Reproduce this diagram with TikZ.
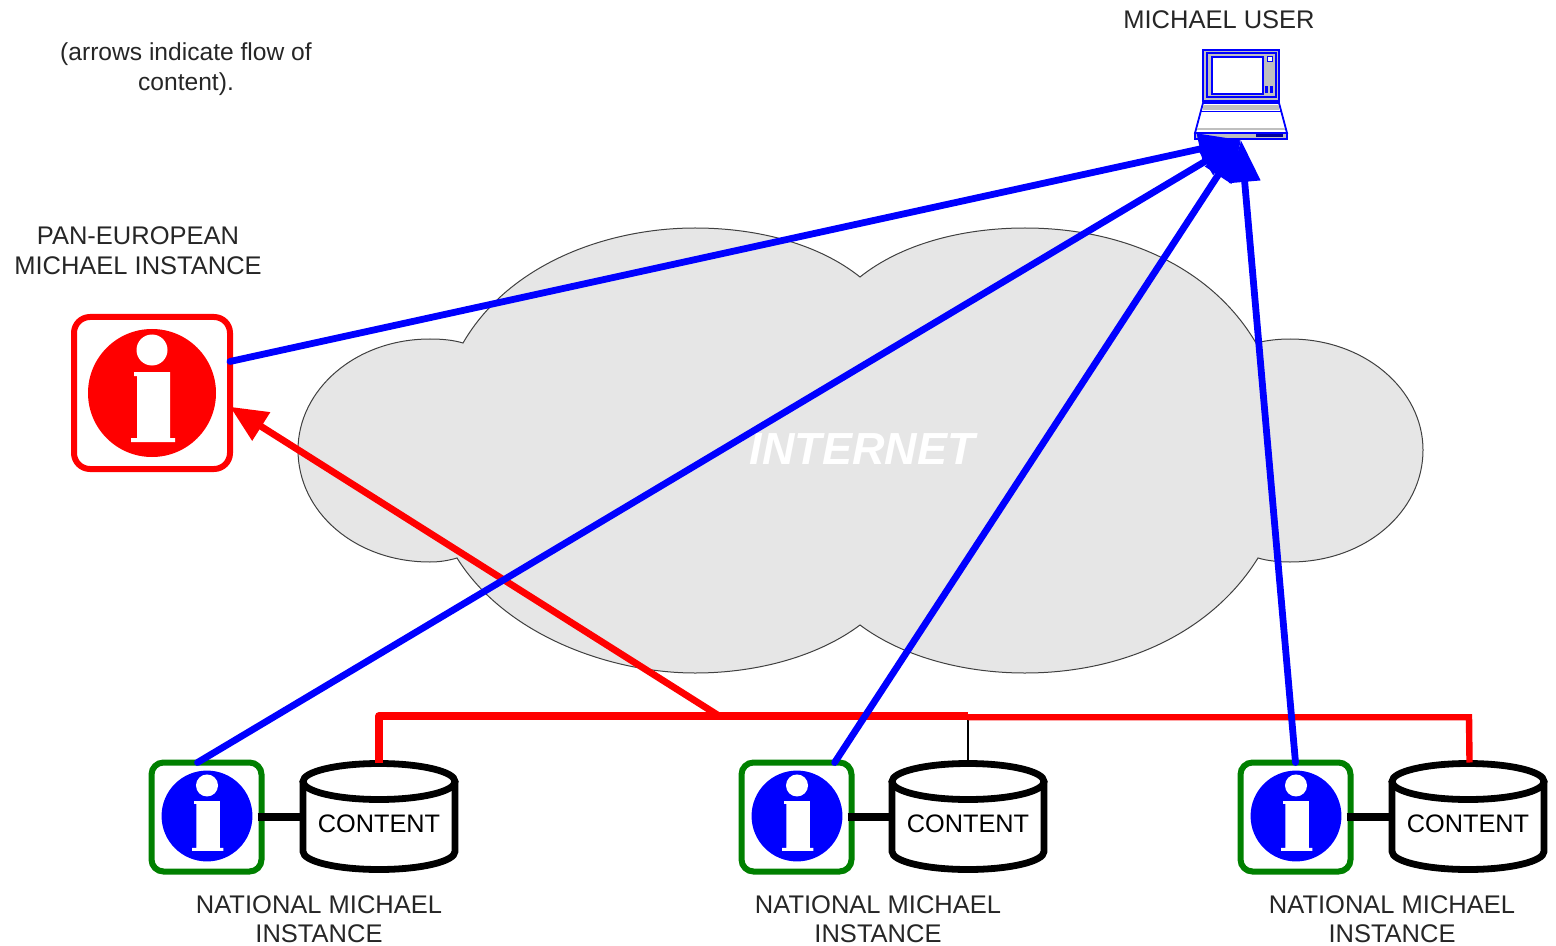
\documentclass[tikz,border=0pt]{standalone}
\usepackage{fontspec}
\setmainfont{Liberation Sans}
\usetikzlibrary{arrows.meta}
\definecolor{netgreen}{RGB}{0,128,0}
\definecolor{cloudgray}{RGB}{230,230,230}
\tikzset{
  px/.style={x=0.5pt,y=-0.5pt},
  lbl/.style={font=\fontsize{12.75pt}{15pt}\selectfont,text=black!85,align=center,inner sep=0pt},
  natlbl/.style={font=\fontsize{12.75pt}{14.5pt}\selectfont,text=black!85,align=center,inner sep=0pt},
  flow/.style={draw=blue,line width=3.4pt,line cap=round,-{Triangle[length=21pt,width=15pt]}},
  link/.style={draw=black,line width=4pt,shorten <=-2pt},
  bigbox/.style={draw=red,line width=3pt,rounded corners=8pt,minimum width=78pt,minimum height=76pt,outer sep=0pt,fill=white},
  smallbox/.style={draw=netgreen,line width=3pt,rounded corners=6pt,minimum width=55pt,minimum height=54.5pt,outer sep=0pt,fill=white},
  cyl/.style={minimum width=79pt,minimum height=54.5pt,outer sep=0pt,inner sep=0pt},
}
\newcommand{\infoglyph}[4]{% cx, cy, scale, colour
  \begin{scope}[shift={(#1,#2)},scale=#3]
    \fill[#4] (0,0) circle [radius=64];
    \fill[white] (0,-43) circle [radius=15.5];
    \fill[white] (-18,-21) -- (18,-21) -- (18,45) -- (23,45) -- (23,49) -- (-21,49) -- (-21,45) -- (-15,45) -- (-15,-17) -- (-18,-17) -- cycle;
  \end{scope}}
\newcommand{\cylshape}[2]{% cx, cy
  \begin{scope}[shift={(#1,#2)}]
    \path[fill=white] (-76,-35.5) -- (-76,34.5) arc [x radius=76,y radius=18,start angle=180,end angle=0] -- (76,-35.5) arc [x radius=76,y radius=18,start angle=0,end angle=180] -- cycle;
    \draw[line width=3.4pt] (-76,-35.5) arc [x radius=76,y radius=18,start angle=180,end angle=-180] -- cycle;
    \draw[line width=3.4pt,line cap=round] (-76,-35.5) -- (-76,34.5) arc [x radius=76,y radius=18,start angle=180,end angle=0] -- (76,-35.5);
  \end{scope}}
\begin{document}
\begin{tikzpicture}[px]
\useasboundingbox (0,0) rectangle (1556,946);
% cloud
\path[fill=cloudgray,draw=black!75,line width=0.5pt]
  (463,343) .. controls (510,262) and (610,228) .. (695,228)
  .. controls (760,228) and (820,245) .. (860,277)
  .. controls (900,245) and (960,228) .. (1025,228)
  .. controls (1120,228) and (1210,265) .. (1256,343)
  .. controls (1268,340) and (1280,339) .. (1290,339)
  .. controls (1365,339) and (1423,390) .. (1423,450)
  .. controls (1423,512) and (1365,562) .. (1290,562)
  .. controls (1280,562) and (1268,561) .. (1258,558)
  .. controls (1210,635) and (1120,673) .. (1025,673)
  .. controls (960,673) and (900,655) .. (860,625)
  .. controls (820,655) and (760,673) .. (695,673)
  .. controls (610,673) and (505,635) .. (457,558)
  .. controls (447,561) and (438,562) .. (430,562)
  .. controls (355,562) and (298,512) .. (298,450)
  .. controls (298,390) and (355,339) .. (430,339)
  .. controls (442,339) and (453,340) .. (463,343) -- cycle;
\node[font=\fontsize{22.5pt}{24pt}\selectfont\itshape\bfseries,text=white,inner sep=0pt] (internet) at (862,449) {INTERNET};
% labels
\node[lbl,font=\fontsize{12.3pt}{15pt}\selectfont] (note) at (186,69) {(arrows indicate flow of\\content).};
\node[lbl] (userlbl) at (1219,20) {MICHAEL USER};
\node[lbl] (panlbl) at (138,251) {PAN-EUROPEAN\\MICHAEL INSTANCE};
\node[natlbl] (natlbla) at (319,919) {NATIONAL MICHAEL\\INSTANCE};
\node[natlbl] (natlblb) at (878,919) {NATIONAL MICHAEL\\INSTANCE};
\node[natlbl] (natlblc) at (1392,919) {NATIONAL MICHAEL\\INSTANCE};
% instances
\node[bigbox] (pan) at (152,393) {};
\infoglyph{152}{393}{1}{red}
\node[smallbox] (ia) at (206.5,817) {};
\infoglyph{207}{816}{0.71}{blue}
\node[smallbox] (ib) at (796.5,817) {};
\infoglyph{797}{816}{0.71}{blue}
\node[smallbox] (ic) at (1295.5,817) {};
\infoglyph{1296}{816}{0.71}{blue}
% content
\cylshape{379}{817}
\cylshape{968}{817}
\cylshape{1468}{817}
\node[cyl] (ca) at (379,817) {};
\node[cyl] (cb) at (968,817) {};
\node[cyl] (cc) at (1468,817) {};
\node[lbl,font=\fontsize{12.65pt}{15pt}\selectfont,text=black,yshift=-3.5pt] at (ca) {CONTENT};
\node[lbl,font=\fontsize{12.65pt}{15pt}\selectfont,text=black,yshift=-3.5pt] at (cb) {CONTENT};
\node[lbl,font=\fontsize{12.65pt}{15pt}\selectfont,text=black,yshift=-3.5pt] at (cc) {CONTENT};
% laptop
\node[minimum width=46pt,minimum height=46pt,inner sep=0pt,outer sep=0pt] (user) at (1241,94) {};
\begin{scope}[draw=blue,line width=0.9pt]
  \path[fill=white,draw] (1203,103) -- (1279,103) -- (1287,133) -- (1195,133) -- cycle;
  \fill[black!25] (1203,105) rectangle (1279,110);
  \draw[line width=0.5pt] (1201,112) -- (1281,112);
  \fill[black!25] (1197,128) rectangle (1285,130);
  \path[fill=black!25,draw,line width=0.6pt] (1195,133) -- (1287,133) -- (1287,139) -- (1195,139) -- cycle;
  \fill[blue!60!black] (1256,134) rectangle (1283,137);
  \path[draw,fill=black!25] (1203,50) rectangle (1279,101);
  \path[draw,line width=0.7pt,fill=black!25] (1207,53) rectangle (1276,97);
  \path[draw,fill=white] (1212,57) rectangle (1263,94);
  \path[draw,fill=white,line width=0.5pt] (1267,57) rectangle (1272,62);
  \fill[blue] (1265,86) rectangle (1268,93);
  \fill[blue] (1270,86) rectangle (1273,93);
\end{scope}
% bus
\draw[draw=black,line width=0.6pt] (cb.north) -- ++(0,-46) coordinate (busb);
\draw[draw=red,line width=4pt,line join=round] (ca.north) -- ++(0,-46.5) -- ++(589,0) coordinate (busl);
\draw[draw=red,line width=3.2pt] (busl) ++(0,1.2) -- ++(501,0) -- (cc.north -| 1469.5,0);
% links
\draw[link] (ia.east) -- (ca.west);
\draw[link] (ib.east) -- (cb.west);
\draw[link] (ic.east) -- (cc.west);
% flows
\draw[draw=red,line width=3.4pt,-{Triangle[length=18.5pt,width=16pt]}] (ca.north) ++(341,-46) coordinate (busa) -- (pan.-10.8);
\draw[flow] (pan.22.7) -- (user.south);
\draw[flow] (ia.north) ++(-9,0) -- (user.south);
\draw[flow] (ib.55.6) -- (user.south);
\draw[flow] (ic.north) -- (user.south);
\end{tikzpicture}
\end{document}
